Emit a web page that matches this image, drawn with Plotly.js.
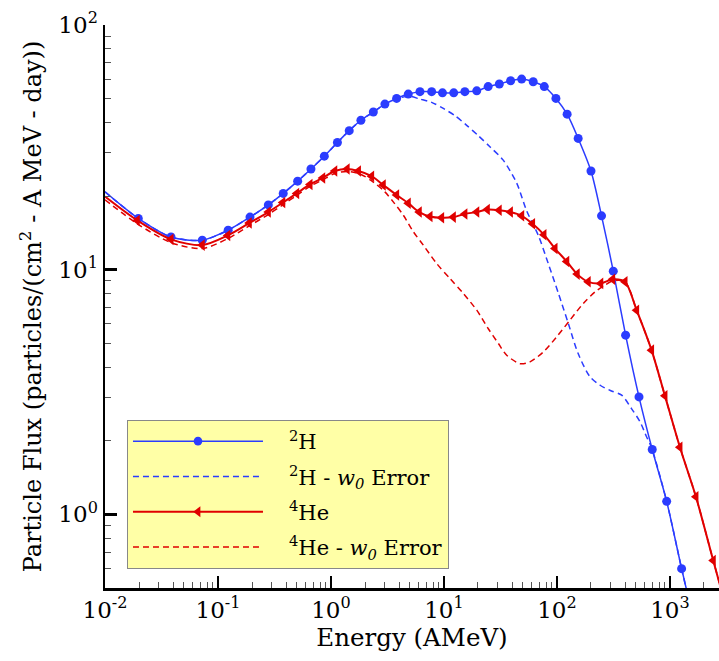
<!DOCTYPE html>
<html>
<head>
<meta charset="utf-8">
<script src="https://cdn.plot.ly/plotly-3.0.1.min.js"></script>
<style>
html,body{margin:0;padding:0;background:#fff;}
#chart{width:719px;height:661px;}
</style>
</head>
<body>
<div id="chart"></div>
<script>
// ---- Data ----
// 2H (solid, circles)
var energyH = [0.01, 0.0197, 0.0384, 0.0726, 0.123, 0.192, 0.279, 0.378, 0.507, 0.665, 0.873, 1.14, 1.45, 1.84, 2.37, 3.0, 3.81, 4.83, 6.13, 7.78, 9.7, 12.2, 15.3, 19.5, 24.6, 30.9, 38.9, 48.7, 61.6, 77.2, 97.9, 123, 154, 200, 248, 315, 405, 532, 697, 935, 1268, 1500];
var fluxH   = [20.8, 16.2, 13.6, 13.2, 14.5, 16.4, 18.4, 20.5, 23.0, 25.8, 29.1, 33.1, 37.0, 40.8, 44.1, 47.5, 50.1, 52.2, 53.4, 53.4, 52.8, 52.8, 53.4, 53.8, 56.0, 57.4, 59.2, 60.1, 58.6, 56.0, 50.1, 43.2, 34.4, 25.3, 16.6, 9.86, 5.40, 3.02, 1.84, 1.13, 0.60, 0.43];

// 2H - w0 Error (dashed)
var energyHerr = [0.01, 0.0197, 0.0384, 0.0726, 0.123, 0.192, 0.279, 0.378, 0.507, 0.665, 0.873, 1.14, 1.45, 1.84, 2.37, 3.0, 3.81, 4.83, 6.13, 7.78, 9.87, 12.5, 15.8, 20.1, 25.5, 33.3, 44.0, 53.9, 68.4, 83.7, 103, 126, 154, 196, 241, 300, 374, 458, 543, 622, 665, 697, 935, 1268, 1500];
var fluxHerr   = [20.8, 16.2, 13.6, 13.2, 14.5, 16.4, 18.4, 20.5, 23.0, 25.8, 29.1, 33.1, 37.0, 40.8, 44.1, 47.5, 49.8, 51.2, 49.8, 48.3, 45.6, 42.6, 39.0, 35.3, 31.8, 28.1, 22.6, 17.4, 13.8, 10.6, 8.0, 6.03, 4.54, 3.65, 3.37, 3.2, 3.07, 2.70, 2.39, 2.07, 1.94, 1.84, 1.13, 0.60, 0.43];

// 4He (solid, left triangles)
var energyHe = [0.01, 0.0193, 0.0384, 0.0726, 0.122, 0.189, 0.279, 0.374, 0.497, 0.652, 0.844, 1.08, 1.39, 1.75, 2.29, 2.90, 3.81, 4.83, 6.04, 7.52, 9.53, 12.1, 15.3, 19.5, 24.2, 30.8, 38.7, 48.7, 60.8, 76.7, 96.0, 122, 151, 189, 244, 311, 400, 507, 687, 903, 1225, 1698, 2415, 3000];
var fluxHe   = [19.9, 15.9, 13.3, 12.6, 13.8, 15.5, 17.2, 18.8, 20.5, 22.3, 23.7, 25.3, 25.8, 25.3, 24.1, 22.2, 20.2, 18.7, 17.2, 16.5, 16.3, 16.4, 16.9, 17.2, 17.6, 17.5, 17.2, 16.6, 15.4, 13.9, 12.2, 10.8, 9.59, 8.92, 8.79, 9.13, 8.92, 6.83, 4.69, 3.05, 1.88, 1.18, 0.648, 0.45];

// 4He - w0 Error (dashed)
var energyHeErr = [0.01, 0.0193, 0.0384, 0.0726, 0.122, 0.189, 0.279, 0.374, 0.497, 0.652, 0.844, 1.08, 1.39, 1.84, 2.37, 3.0, 3.6, 4.37, 5.35, 6.56, 8.61, 11.3, 14.8, 19.5, 24.6, 30.3, 35.9, 47.1, 57.7, 75.7, 99.3, 130, 171, 217, 266, 311, 400, 507, 687, 903, 1225, 1698, 2415, 3000];
var fluxHeErr   = [19.3, 15.4, 12.9, 12.2, 13.4, 15.1, 16.8, 18.4, 20.1, 21.9, 23.3, 24.7, 25.2, 24.5, 22.8, 20.8, 18.8, 16.7, 14.3, 12.6, 10.6, 9.2, 8.0, 6.83, 5.75, 4.99, 4.47, 4.13, 4.20, 4.61, 5.31, 6.21, 7.28, 8.11, 8.65, 9.0, 8.92, 6.83, 4.69, 3.05, 1.88, 1.18, 0.648, 0.45];

var seriesNames = [
  '<sup>2</sup>H',
  '<sup>2</sup>H - <i>w<sub>0</sub></i> Error',
  '<sup>4</sup>He',
  '<sup>4</sup>He - <i>w<sub>0</sub></i> Error'
];
var xTickVals = [0.01, 0.1, 1, 10, 100, 1000];
var xTickText = ['10<sup>-2</sup>', '10<sup>-1</sup>', '10<sup>0</sup>', '10<sup>1</sup>', '10<sup>2</sup>', '10<sup>3</sup>'];
var yTickVals = [1, 10, 100];
var yTickText = ['10<sup>0</sup>', '10<sup>1</sup>', '10<sup>2</sup>'];
var xTitle = 'Energy (AMeV)';
var yTitle = 'Particle Flux (particles/(cm<sup>2</sup> - A MeV - day))';

// ---- Styling ----
var BLUE = '#2b3cff';
var RED = '#e00000';
var FONT = 'DejaVu Serif';
var LEGEND_PAD = '\u2002\u2002';

// end points (first/last) are line extensions without a symbol
function symbolSizes(arr, s) {
  return arr.map(function (v, i) { return (i === 0 || i === arr.length - 1) ? 0 : s; });
}

var traces = [
  {
    x: energyHerr, y: fluxHerr, name: LEGEND_PAD + seriesNames[1], type: 'scatter', mode: 'lines',
    legendgroup: 'b', legendrank: 2,
    line: {color: BLUE, width: 1.5, dash: '6px,4px', shape: 'spline', smoothing: 0.8}
  },
  {
    x: energyHeErr, y: fluxHeErr, name: LEGEND_PAD + seriesNames[3], type: 'scatter', mode: 'lines',
    legendgroup: 'd', legendrank: 4,
    line: {color: RED, width: 1.5, dash: '6px,4px', shape: 'spline', smoothing: 0.8}
  },
  {
    x: energyH, y: fluxH, name: LEGEND_PAD + seriesNames[0], type: 'scatter', mode: 'lines+markers',
    legendgroup: 'a', legendrank: 1,
    line: {color: BLUE, width: 1.5, shape: 'spline', smoothing: 0.8},
    marker: {color: BLUE, opacity: 1, symbol: 'circle', size: symbolSizes(energyH, 9), line: {width: 0}}
  },
  {
    x: energyHe, y: fluxHe, name: LEGEND_PAD + seriesNames[2], type: 'scatter', mode: 'lines+markers',
    legendgroup: 'c', legendrank: 3,
    line: {color: RED, width: 2, shape: 'spline', smoothing: 0.8},
    marker: {color: RED, opacity: 1, symbol: 'triangle-left', size: symbolSizes(energyHe, 10), line: {width: 0}}
  }
];

var axisCommon = {
  type: 'log',
  tickmode: 'array',
  showgrid: false,
  zeroline: false,
  showline: true,
  linecolor: '#000',
  linewidth: 2.5,
  ticks: 'inside',
  ticklen: 12,
  tickwidth: 2.5,
  tickcolor: '#000',
  tickfont: {family: FONT, size: 23, color: '#000'},
  minor: {ticks: 'inside', ticklen: 6, tickwidth: 1, tickcolor: '#555', dtick: 'D1', showgrid: false}
};

var layout = {
  width: 719,
  height: 661,
  margin: {l: 105, r: 0, t: 25, b: 73},
  paper_bgcolor: '#fff',
  plot_bgcolor: '#fff',
  showlegend: true,
  font: {family: FONT, color: '#000'},
  xaxis: Object.assign({}, axisCommon, {
    range: [-2, 3.434],
    tickvals: xTickVals, ticktext: xTickText,
    title: {text: xTitle, font: {family: FONT, size: 24.5, color: '#000'}, standoff: 4}
  }),
  yaxis: Object.assign({}, axisCommon, {
    range: [Math.log10(0.5), 2],
    tickvals: yTickVals, ticktext: yTickText,
    title: {text: yTitle, font: {family: FONT, size: 24, color: '#000'}, standoff: 10}
  }),
  legend: {
    x: 0.0358, y: 0.2984, xanchor: 'left', yanchor: 'top',
    bgcolor: '#ffffa6', bordercolor: '#888', borderwidth: 1,
    font: {family: FONT, size: 21, color: '#000'},
    itemwidth: 130,
    tracegroupgap: 5,
    traceorder: 'grouped'
  }
};

Plotly.newPlot('chart', traces, layout, {displayModeBar: false, staticPlot: true});
</script>
</body>
</html>
